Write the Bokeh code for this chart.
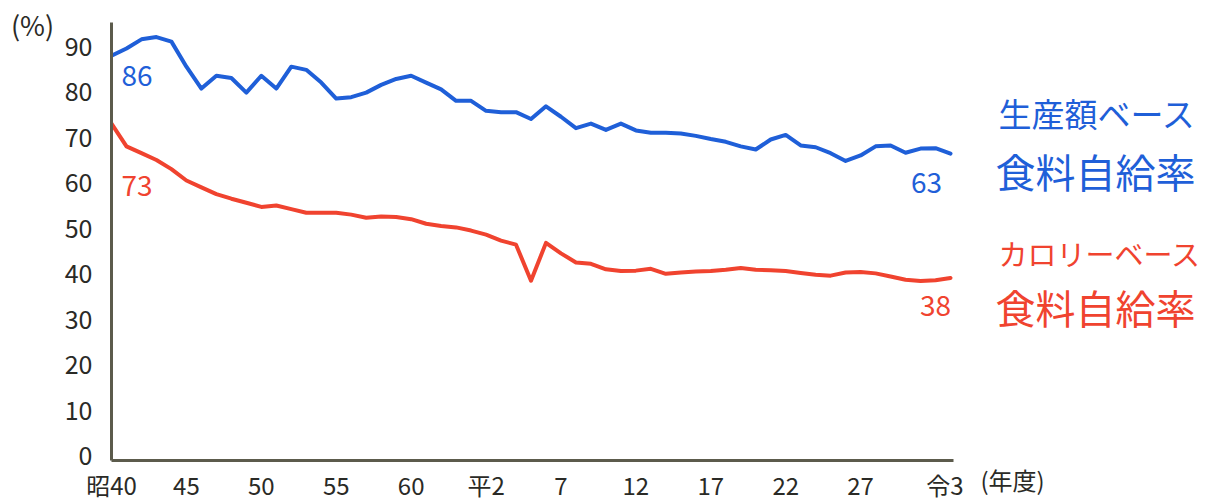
from bokeh.plotting import figure
from bokeh.models import FixedTicker, Label
from bokeh.layouts import row, column
from bokeh.core.properties import value
from bokeh.embed import file_html
from bokeh.resources import INLINE

years = list(range(1965, 2022))

production_based = [
    87.9, 89.5, 91.5, 92.0, 91.0, 85.5, 80.7, 83.5, 83.0, 79.8,
    83.5, 80.7, 85.5, 84.8, 82.0, 78.5, 78.8, 79.8, 81.5, 82.8,
    83.5, 82.0, 80.5, 78.0, 78.0, 75.8, 75.5, 75.5, 74.0, 76.8,
    74.5, 72.0, 73.0, 71.6, 73.0, 71.5, 71.0, 71.0, 70.8, 70.3,
    69.6, 69.0, 68.0, 67.3, 69.5, 70.5, 68.2, 67.8, 66.5, 64.8,
    66.0, 68.0, 68.2, 66.6, 67.5, 67.6, 66.4,
]

calorie_based = [
    73.0, 68.0, 66.5, 65.0, 63.0, 60.5, 59.0, 57.5, 56.5, 55.6,
    54.7, 55.0, 54.2, 53.4, 53.4, 53.4, 53.0, 52.3, 52.6, 52.5,
    52.0, 51.0, 50.5, 50.2, 49.5, 48.6, 47.3, 46.4, 38.5, 46.8,
    44.5, 42.5, 42.2, 41.0, 40.6, 40.7, 41.1, 40.0, 40.3, 40.5,
    40.6, 40.9, 41.3, 40.9, 40.8, 40.6, 40.2, 39.8, 39.6, 40.3,
    40.4, 40.1, 39.4, 38.7, 38.4, 38.6, 39.1,
]

x_ticks = [1965, 1970, 1975, 1980, 1985, 1990, 1995, 2000, 2005, 2010, 2015, 2021]
x_tick_labels = ["昭40", "45", "50", "55", "60", "平2", "7", "12", "17", "22", "27", "令3"]
y_ticks = [0, 10, 20, 30, 40, 50, 60, 70, 80, 90]

y_unit = "(%)"
x_unit = "(年度)"
start_labels = ["86", "73"]
end_labels = ["63", "38"]
series_names = [["生産額ベース", "食料自給率"], ["カロリーベース", "食料自給率"]]

BLUE = "#1f5fd8"
RED = "#f0432f"
INK = "#2a2a26"
FONT = "Noto Sans CJK JP"

H = 496
LEFT_W = 56
TOP = 22
FRAME_W = 842
FRAME_H = 438
RIGHT_PAD = 10
TOTAL_W = 1205

# ---------------- main chart ----------------
p = figure(
    frame_width=FRAME_W, frame_height=FRAME_H,
    x_range=(1965, 2021.2), y_range=(-1, 95.2),
    output_backend="svg", toolbar_location=None,
    min_border_left=111 - LEFT_W, min_border_right=RIGHT_PAD,
    min_border_top=TOP, min_border_bottom=H - TOP - FRAME_H,
)
p.outline_line_color = None
p.xgrid.visible = False
p.ygrid.visible = False

p.line(years, production_based, line_color=BLUE, line_width=4, line_join="round", line_cap="round")
p.line(years, calorie_based, line_color=RED, line_width=4, line_join="round", line_cap="round")

for ax in (p.xaxis[0], p.yaxis[0]):
    ax.axis_line_color = "#5c5b4c"
    ax.axis_line_width = 3
    ax.major_tick_line_color = None
    ax.minor_tick_line_color = None
    ax.major_label_text_font = FONT
    ax.major_label_text_color = INK

p.xaxis.ticker = FixedTicker(ticks=x_ticks)
p.xaxis.major_label_overrides = {t: l for t, l in zip(x_ticks, x_tick_labels)}
p.xaxis.major_label_standoff = 0
p.xaxis.major_label_text_font_size = "24px"
p.yaxis.ticker = FixedTicker(ticks=y_ticks)
p.yaxis.major_label_standoff = 13
p.yaxis.major_label_text_font_size = "25px"

def data_label(x, y, text, color, size):
    p.add_layout(Label(x=x, y=y, text=text, text_color=color, text_font=FONT,
                       text_font_size=size, text_align="center", text_baseline="middle"))

data_label(1966.7, 83.5, start_labels[0], BLUE, "28px")
data_label(1966.7, 59.3, start_labels[1], RED, "28px")
data_label(2019.4, 60.0, end_labels[0], BLUE, "28px")
data_label(2020.0, 33.0, end_labels[1], RED, "28px")

# ---------------- side text panels ----------------
def text_panel(width):
    f = figure(frame_width=width, frame_height=H, x_range=(0, width), y_range=(H, 0),
               x_axis_type=None, y_axis_type=None, output_backend="svg",
               toolbar_location=None, min_border=0)
    f.outline_line_color = None
    f.xgrid.visible = False
    f.ygrid.visible = False
    return f

left = text_panel(LEFT_W)
left.text(x=[32], y=[24], text=[y_unit], text_color=INK, text_font=value(FONT),
          text_font_size="27px", text_align="center", text_baseline="middle")

right_start = 111 + FRAME_W + RIGHT_PAD
RIGHT_W = TOTAL_W - right_start
right = text_panel(RIGHT_W)
right.text(x=[980 - right_start], y=[479], text=[x_unit], text_color=INK,
           text_font=value(FONT), text_font_size="24px", text_align="left",
           text_baseline="middle")
right.text(x=[998 - right_start], y=[112], text=[series_names[0][0]], text_color=BLUE,
           text_font=value(FONT), text_font_size="33px", text_baseline="middle")
right.text(x=[995 - right_start], y=[170], text=[series_names[0][1]], text_color=BLUE,
           text_font=value(FONT), text_font_size="40px", text_baseline="middle")
right.text(x=[998 - right_start], y=[252], text=[series_names[1][0]], text_color=RED,
           text_font=value(FONT), text_font_size="29px", text_baseline="middle")
right.text(x=[995 - right_start], y=[306], text=[series_names[1][1]], text_color=RED,
           text_font=value(FONT), text_font_size="40px", text_baseline="middle")

layout = row(column(left), column(p), column(right))
open("out.html", "w").write(file_html(layout, INLINE))
